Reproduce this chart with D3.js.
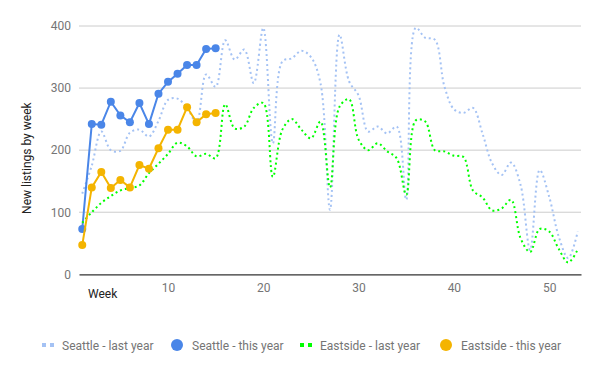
<!doctype html>
<html lang="en">
  <head>
    <meta charset="utf-8">
    <title>New listings by week</title>
    <script src="https://d3js.org/d3.v7.min.js"></script>
    <style>
      body { margin: 0; background: #fff; }
      text { font-family: Roboto, Arial, sans-serif; }
    </style>
  </head>
  <body>
    <div id="chart"></div>
    <script>

      // data
      const weeks = d3.range(1, 54);
      const seattleLastYear = [130, 175, 230, 200, 199, 228, 233, 222, 247, 281, 283, 268, 245, 322, 302, 377,
        346, 362, 308, 397, 211, 343, 348, 360, 350, 308, 104, 386, 311, 288, 230, 238, 227, 238, 120, 397,
        381, 378, 303, 266, 260, 268, 227, 179, 160, 180, 144, 39, 168, 125, 61, 26, 69];
      const seattleThisYear = [73, 242, 241, 278, 256, 245, 276, 242, 291, 310, 323, 337, 337, 363, 364];
      const eastsideLastYear = [83, 100, 115, 126, 135, 139, 143, 163, 178, 194, 212, 206, 190, 194, 187, 274,
        235, 238, 268, 276, 157, 233, 250, 233, 219, 246, 140, 270, 282, 217, 200, 211, 198, 187, 128, 248,
        246, 200, 198, 191, 189, 135, 124, 103, 106, 120, 58, 36, 73, 69, 41, 19, 40];
      const eastsideThisYear = [47, 140, 165, 139, 152, 140, 176, 170, 203, 233, 233, 269, 245, 258, 260];
      const yTicks = [0, 100, 200, 300, 400];
      const xTicks = [10, 20, 30, 40, 50];

      const series = [
        {name: "Seattle - last year", values: seattleLastYear, color: "#a4c2f4", dotted: true},
        {name: "Seattle - this year", values: seattleThisYear, color: "#4a86e8", dotted: false},
        {name: "Eastside - last year", values: eastsideLastYear, color: "#00ff00", dotted: true},
        {name: "Eastside - this year", values: eastsideThisYear, color: "#f4b400", dotted: false}
      ];

      const W = 600, H = 371;
      const plot = {left: 79, right: 581, top: 26, bottom: 274.3};

      const svg = d3.select("#chart")
        .append("svg")
          .attr("width", W)
          .attr("height", H);

      const x = d3.scaleLinear()
        .domain([0.66, 53.34])
        .range([plot.left, plot.right]);

      const y = d3.scaleLinear()
        .domain([0, 400])
        .range([plot.bottom, plot.top]);

      // gridlines
      svg.append("g")
        .selectAll("line")
        .data(yTicks.filter(d => d > 0))
        .join("line")
          .attr("x1", plot.left)
          .attr("x2", plot.right)
          .attr("y1", d => y(d))
          .attr("y2", d => y(d))
          .attr("stroke", "#cccccc")
          .attr("stroke-width", 1);

      // y axis labels
      const yAxis = svg.append("g")
        .attr("transform", `translate(${plot.left},0)`)
        .call(d3.axisLeft(y).tickValues(yTicks).tickSize(0).tickPadding(8));
      yAxis.select(".domain").remove();
      yAxis.selectAll("text")
        .attr("fill", "#757575")
        .attr("font-size", "12px")
        .attr("font-family", "Roboto, Arial, sans-serif");

      // x axis
      const xAxis = svg.append("g")
        .attr("transform", `translate(0,${plot.bottom})`)
        .call(d3.axisBottom(x).tickValues(xTicks).tickSize(0).tickPadding(9));
      xAxis.select(".domain")
        .attr("stroke", "#333333")
        .attr("stroke-width", 1.3);
      xAxis.selectAll("text")
        .attr("fill", "#757575")
        .attr("font-size", "12px")
        .attr("font-family", "Roboto, Arial, sans-serif");

      svg.append("text")
        .attr("x", 88)
        .attr("y", 297.5)
        .attr("font-size", "12px")
        .attr("fill", "#222")
        .text("Week");

      svg.append("text")
        .attr("transform", `translate(31,${(plot.top + plot.bottom) / 2 + 8}) rotate(-90)`)
        .attr("text-anchor", "middle")
        .attr("font-size", "12px")
        .attr("fill", "#222")
        .text("New listings by week");

      // lines
      const smooth = d3.line()
        .x((d, i) => x(weeks[i]))
        .y(d => y(d))
        .curve(d3.curveCatmullRom.alpha(0.5));
      const straight = d3.line()
        .x((d, i) => x(weeks[i]))
        .y(d => y(d));

      series.forEach(s => {
        svg.append("path")
          .datum(s.values)
          .attr("fill", "none")
          .attr("stroke", s.color)
          .attr("stroke-width", 2)
          .attr("stroke-dasharray", s.dotted ? "2,3" : null)
          .attr("d", s.dotted ? smooth : straight);
        if (!s.dotted) {
          svg.append("g")
            .selectAll("circle")
            .data(s.values)
            .join("circle")
              .attr("cx", (d, i) => x(weeks[i]))
              .attr("cy", d => y(d))
              .attr("r", 4)
              .attr("fill", s.color);
        }
      });

      // legend
      const legendX = [42, 171, 300, 440];
      const legend = svg.append("g");
      series.forEach((s, i) => {
        const g = legend.append("g").attr("transform", `translate(${legendX[i]},345)`);
        if (s.dotted) {
          g.append("rect").attr("x", 0).attr("y", -2).attr("width", 4).attr("height", 4).attr("fill", s.color);
          g.append("rect").attr("x", 8).attr("y", -2).attr("width", 4).attr("height", 4).attr("fill", s.color);
        } else {
          g.append("circle").attr("cx", 6).attr("cy", 0).attr("r", 6).attr("fill", s.color);
        }
        g.append("text")
          .attr("x", s.dotted ? 20 : 21)
          .attr("y", 4.5)
          .attr("font-size", "12px")
          .attr("fill", "#757575")
          .text(s.name);
      });

    </script>
  </body>
</html>
